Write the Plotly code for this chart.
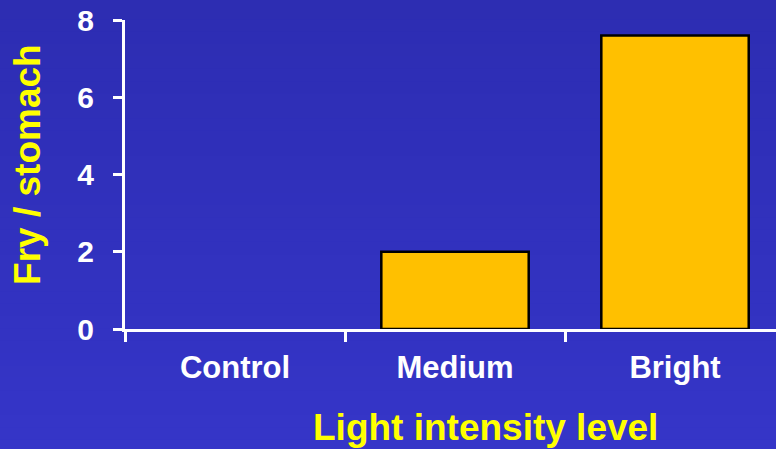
import plotly.graph_objects as go

# Fry found per stomach at each light level
categories = ["Control", "Medium", "Bright"]
fry_per_stomach = [0, 2, 7.6]
y_ticks = [0, 2, 4, 6, 8]

FONT = "Liberation Sans, Arial, sans-serif"
WHITE = "#FFFFFF"
YELLOW = "#FFFF00"
BAR = "#FFC000"

# A zero-height bar gets no outline
outline_widths = [2.5 if v > 0 else 0 for v in fry_per_stomach]

fig = go.Figure(
    go.Bar(
        x=categories,
        y=fry_per_stomach,
        marker=dict(color=BAR, line=dict(color="#000000", width=outline_widths)),
        width=0.67,
    )
)

# Soft vertical gradient behind the chart (darker at the top)
n_bands = 40
top_rgb = (44, 44, 176)
bot_rgb = (53, 53, 200)
shapes = []
for i in range(n_bands):
    t = i / (n_bands - 1)
    r = round(top_rgb[0] + (bot_rgb[0] - top_rgb[0]) * t)
    g = round(top_rgb[1] + (bot_rgb[1] - top_rgb[1]) * t)
    b = round(top_rgb[2] + (bot_rgb[2] - top_rgb[2]) * t)
    shapes.append(
        dict(
            type="rect", xref="paper", yref="paper", layer="below",
            x0=-0.3, x1=1.1,
            y0=1.2 - (i + 1) * (1.6 / n_bands), y1=1.2 - i * (1.6 / n_bands) + 0.002,
            fillcolor=f"rgb({r},{g},{b})", line=dict(width=0),
        )
    )

title_font = dict(family=FONT, size=37, color=YELLOW, weight="bold")

fig.update_layout(
    width=776,
    height=449,
    margin=dict(l=125, r=0, t=20, b=120),
    paper_bgcolor="rgb(48,48,188)",
    plot_bgcolor="rgba(0,0,0,0)",
    showlegend=False,
    shapes=shapes,
    font=dict(family=FONT, color=WHITE),
    xaxis=dict(
        type="category",
        range=[-0.5, 2.459],
        tickson="boundaries",
        ticks="outside",
        ticklen=10,
        tickwidth=2.5,
        tickcolor=WHITE,
        showline=True,
        linecolor=WHITE,
        linewidth=3,
        showgrid=False,
        tickfont=dict(family=FONT, size=31, color=WHITE, weight="bold"),
        ticklabelstandoff=9,
        automargin=False,
    ),
    yaxis=dict(
        range=[0, 8],
        tickvals=y_ticks,
        ticks="outside",
        ticklen=9,
        tickwidth=2.5,
        tickcolor=WHITE,
        showline=True,
        linecolor=WHITE,
        linewidth=3,
        showgrid=False,
        zeroline=False,
        tickfont=dict(family=FONT, size=30, color=WHITE, weight="bold"),
        ticklabelstandoff=13,
        automargin=False,
    ),
    annotations=[
        dict(
            text="Light intensity level", xref="paper", yref="paper",
            x=0.553, y=-0.320, xanchor="center", yanchor="middle",
            showarrow=False, font=title_font,
        ),
        dict(
            text="Fry / stomach", xref="paper", yref="paper",
            x=-0.149, y=0.531, xanchor="center", yanchor="middle",
            textangle=-90, showarrow=False, font=title_font,
        ),
    ],
)

fig.write_html("out.html")
